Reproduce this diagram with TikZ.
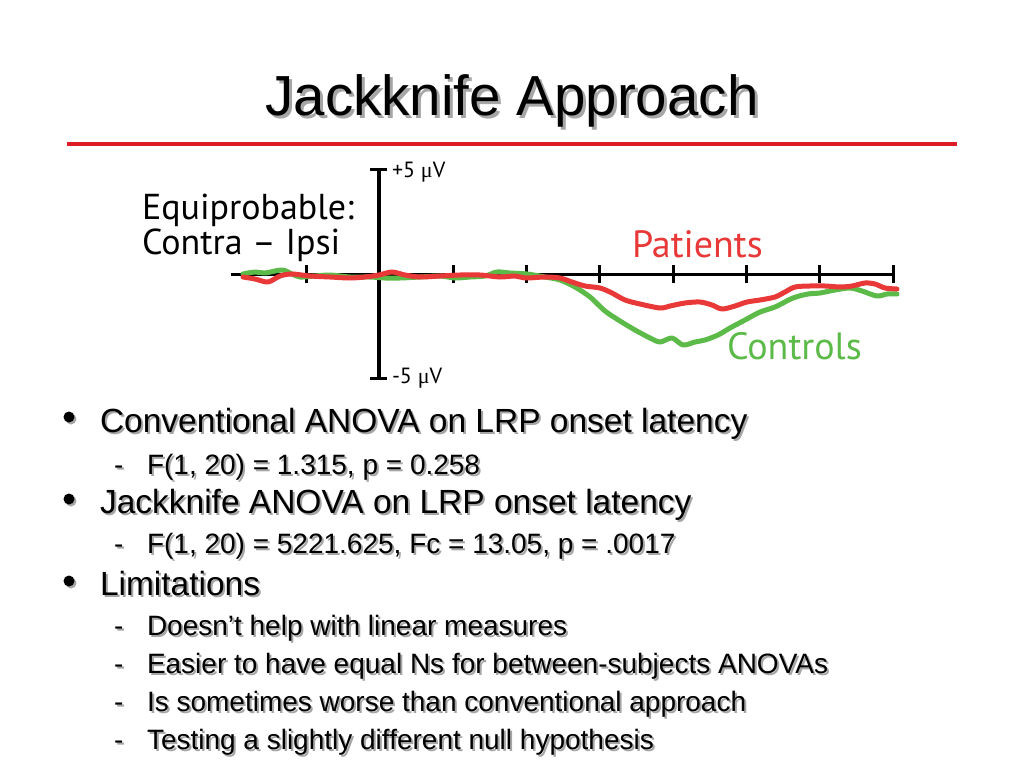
\documentclass[tikz,border=0pt]{standalone}
\usepackage{fontspec}
\setmainfont{Liberation Sans}
\newfontfamily\chartfont{PT Sans}
\newfontfamily\greekfont{Liberation Serif}
\definecolor{slidered}{RGB}{222,28,36}
\definecolor{curvered}{RGB}{232,56,56}
\definecolor{curvegreen}{RGB}{92,186,72}
\newcommand\shtext[5]{%
  \node[textbase, text=black!35, font=\fontsize{#3}{#3}\selectfont, xshift=#5pt, yshift=-#5pt] at (#2) {#4};
  \node[textbase, font=\fontsize{#3}{#3}\selectfont] (#1) at (#2) {#4};}
\begin{document}
\begin{tikzpicture}[x=1pt,y=-1pt,
  textbase/.style={anchor=base west, inner sep=0pt, outer sep=0pt},
  charttext/.style={anchor=base west, inner sep=0pt, outer sep=0pt},
  bulletdot/.style={circle, fill=black, inner sep=0pt, minimum size=11pt},
  bulletshadow/.style={circle, fill=black!35, inner sep=0pt, minimum size=11pt},
  axisline/.style={line width=3pt, black},
  trace/.style={line width=5pt, line join=round, line cap=round},
]
\fill[white] (0,0) rectangle (1024,768);
\useasboundingbox (0,0) rectangle (1024,768);

% title
\node[anchor=base, inner sep=0pt, text=black!35, font=\fontsize{56.5}{56.5}\selectfont, xshift=3pt, yshift=-3pt] at (512,115) {Jackknife Approach};
\node[anchor=base, inner sep=0pt, font=\fontsize{56.5}{56.5}\selectfont] (title) at (512,115) {Jackknife Approach};
\draw[slidered, line width=3.5pt] (67,144) -- (957,144);

% axes
\draw[axisline, line width=3.5pt] (379,169) -- (379,378);
\draw[axisline] (370,169) -- (387,169);
\draw[axisline] (370,378) -- (387,378);
\draw[axisline] (231,274) -- (893,274);
\foreach \tx in {306,379,453,526,599,673,746,819,893}
  \draw[axisline] (\tx,265) -- (\tx,283);

\node[charttext, font=\chartfont\fontsize{22}{22}\selectfont] (plus) at (392,177) {+5 {\greekfont μ}V};
\node[charttext, font=\chartfont\fontsize{22}{22}\selectfont] (minus) at (392,383) {-5 {\greekfont μ}V};
\node[charttext, font=\chartfont\fontsize{36}{36}\selectfont] (eq1) at (142,219) {Equiprobable:};
\node[charttext, font=\chartfont\fontsize{36}{36}\selectfont] (eq2) at (142,254) {Contra – Ipsi};
\node[charttext, text=curvered, font=\chartfont\fontsize{38}{38}\selectfont] (pat) at (632,257) {Patients};
\node[charttext, text=curvegreen, font=\chartfont\fontsize{38}{38}\selectfont] (con) at (727,359) {Controls};

% traces
\draw[trace, curvegreen] plot[smooth, tension=0.5] coordinates {
(243,274) (255,272) (265,273) (282,270) (292,274) (300,277) (315,276) (330,275) (350,277) (370,277) (385,278) (400,278) (420,277) (440,276) (455,278) (470,277) (485,276) (497,272) (510,273) (527,274) (545,277) (560,280) (575,287) (590,297) (605,311) (620,321) (635,330) (650,338) (660,342) (672,338) (683,345) (695,342) (705,340) (718,335) (730,328) (745,320) (760,312) (775,307) (793,298) (808,294) (820,293) (835,290) (850,288) (862,291) (877,296) (887,294) (897,294)};
\draw[trace, curvered] plot[smooth, tension=0.5] coordinates {
(243,277) (255,279) (268,282) (280,276) (292,274) (310,276) (330,277) (350,278) (365,277) (379,275) (392,272) (405,275) (420,277) (440,276) (460,275) (480,275) (500,277) (515,276) (526,278) (545,277) (560,278) (572,282) (585,286) (600,288) (612,293) (625,300) (640,304) (660,308) (670,306) (685,303) (700,302) (712,305) (722,309) (735,306) (747,302) (760,300) (775,297) (785,292) (795,287) (810,286) (825,286) (840,287) (852,286) (865,283) (875,284) (885,288) (897,289)};

% bullets
\node[bulletshadow] at (71,419) {};
\node[bulletdot] (b1) at (69,417) {};
\node[bulletshadow] at (71,501) {};
\node[bulletdot] (b2) at (69,499) {};
\node[bulletshadow] at (71,583) {};
\node[bulletdot] (b3) at (69,581) {};

\shtext{l1}{100,432}{33.5}{Conventional ANOVA on LRP onset latency}{2}
\shtext{d1}{114,474}{28}{-}{2}
\shtext{s1}{147,474}{28}{F(1, 20) = 1.315, p = 0.258}{2}
\shtext{l2}{100,513}{33.5}{Jackknife ANOVA on LRP onset latency}{2}
\shtext{d2}{114,553}{28}{-}{2}
\shtext{s2}{147,553}{28}{F(1, 20) = 5221.625, Fc = 13.05, p = .0017}{2}
\shtext{l3}{100,595}{33.5}{Limitations}{2}
\shtext{d3}{114,635}{28}{-}{2}
\shtext{s3}{147,635}{28}{Doesn’t help with linear measures}{2}
\shtext{d4}{114,673}{28}{-}{2}
\shtext{s4}{147,673}{28}{Easier to have equal Ns for between-subjects ANOVAs}{2}
\shtext{d5}{114,711}{28}{-}{2}
\shtext{s5}{147,711}{28}{Is sometimes worse than conventional approach}{2}
\shtext{d6}{114,749}{28}{-}{2}
\shtext{s6}{147,749}{28}{Testing a slightly different null hypothesis}{2}
\end{tikzpicture}
\end{document}
